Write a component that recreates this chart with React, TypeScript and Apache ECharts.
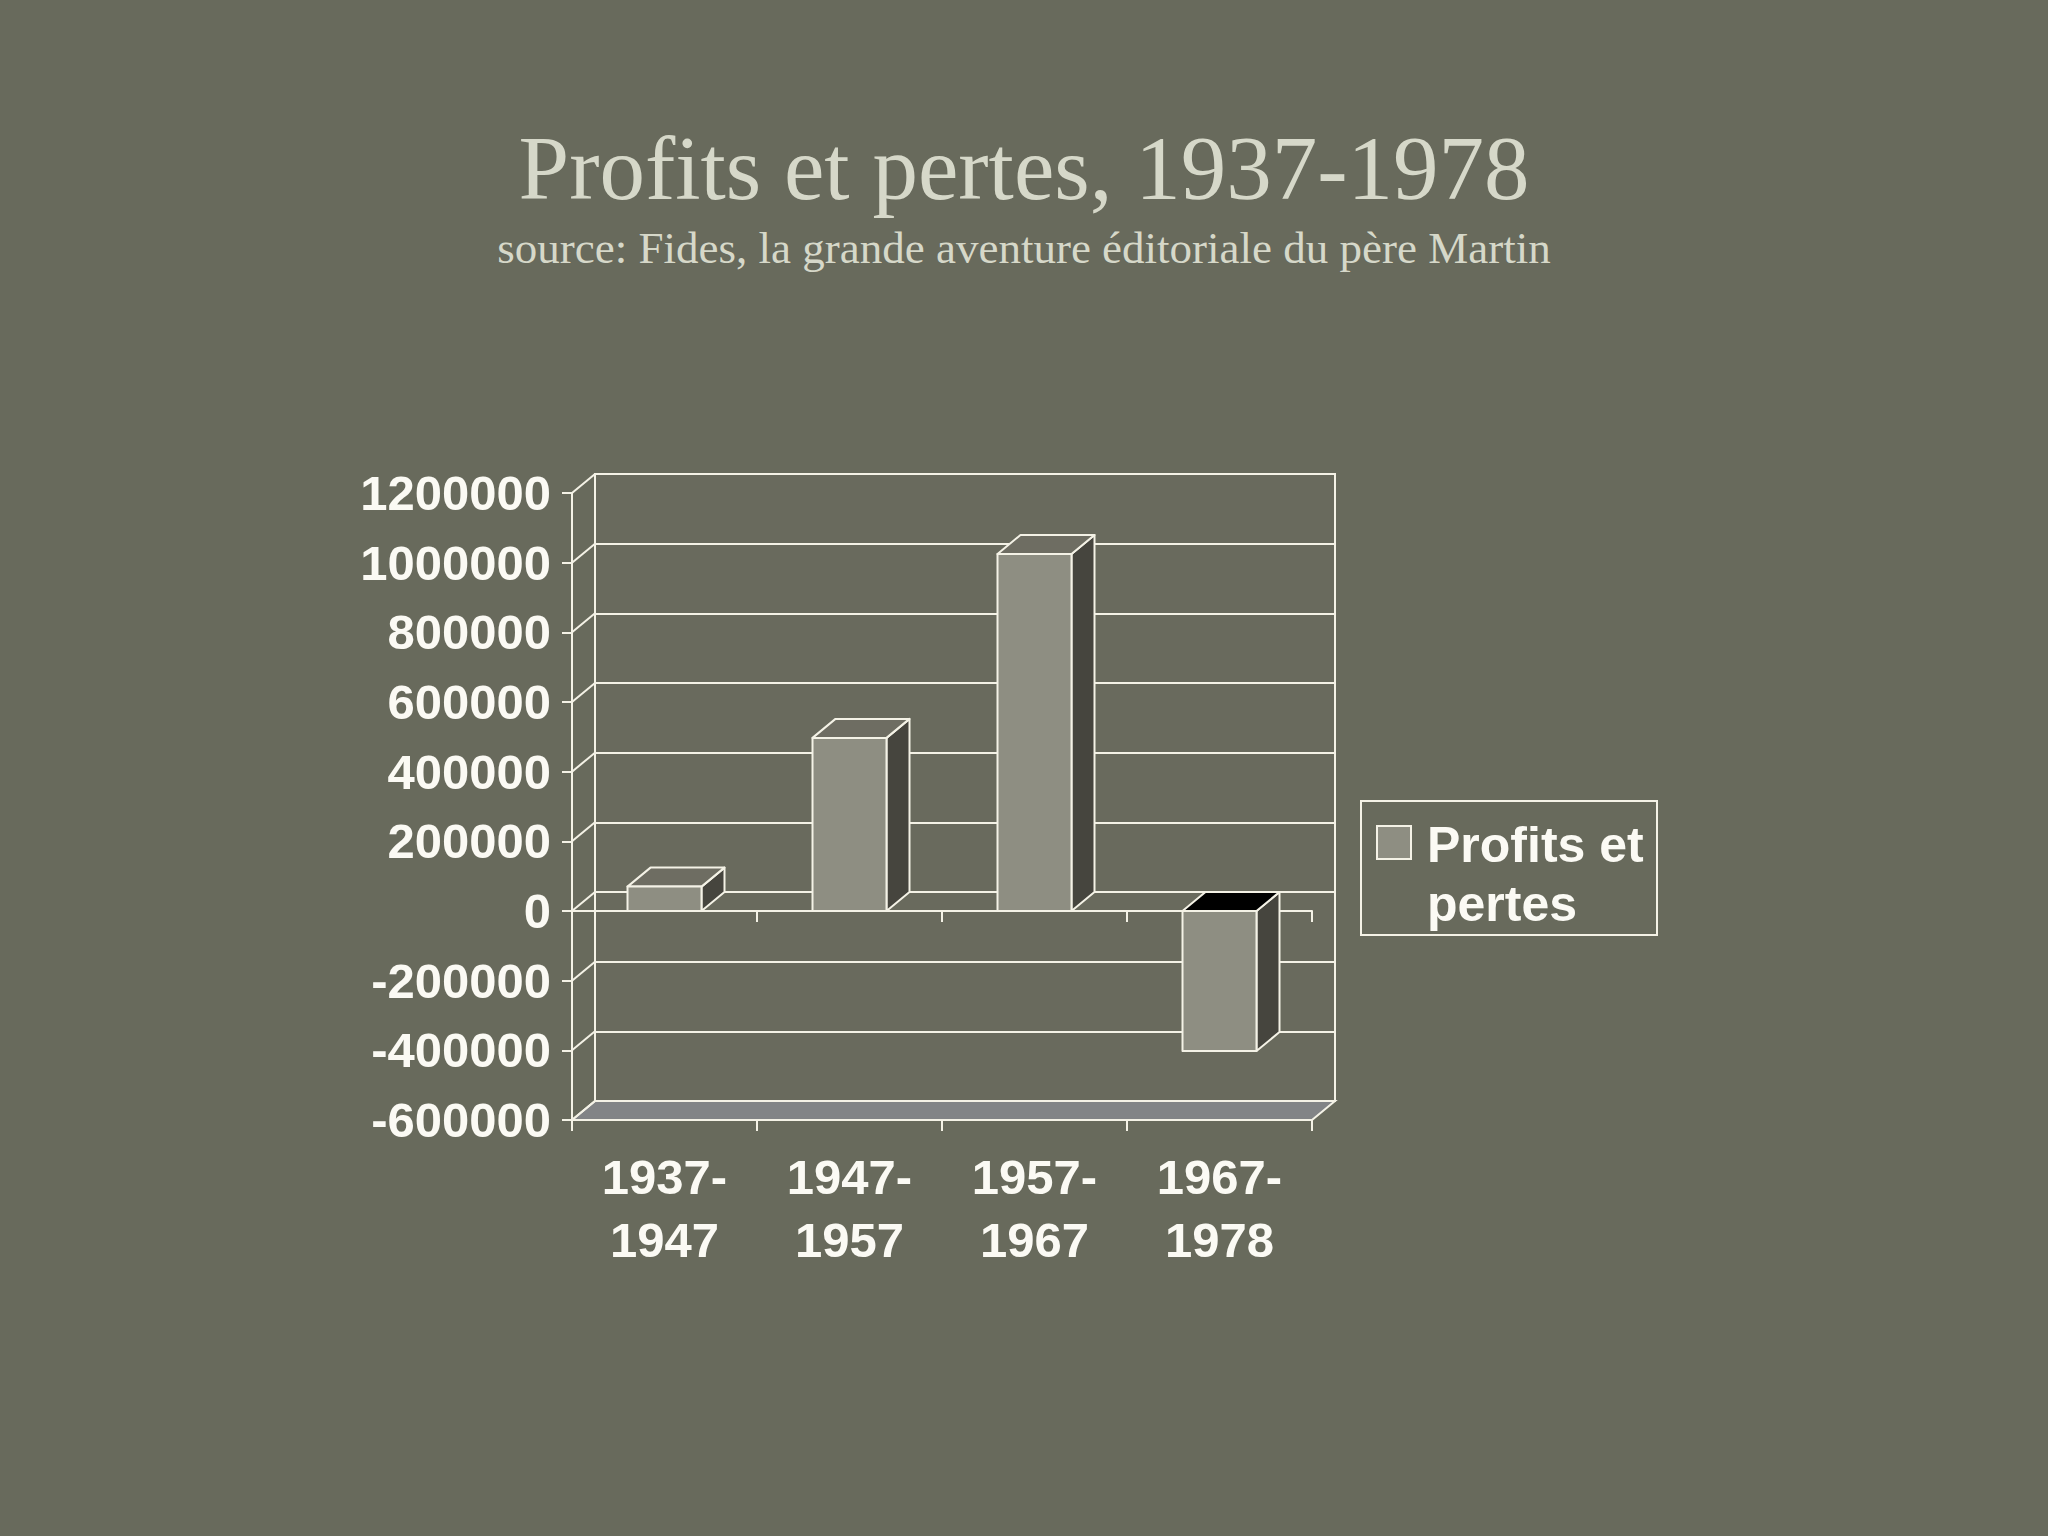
import { useEffect, useRef } from 'react'
import * as echarts from 'echarts'

// données
const categories = ['1937-\n1947', '1947-\n1957', '1957-\n1967', '1967-\n1978']
const profits = [70000, 497000, 1025000, -402000]
const yTicks = [-600000, -400000, -200000, 0, 200000, 400000, 600000, 800000, 1000000, 1200000]
const seriesName = 'Profits et pertes'
const title = 'Profits et pertes, 1937-1978'
const subtitle = 'source: Fides, la grande aventure éditoriale du père Martin'

const BG = '#686a5c'
const WALL = '#696a5d'
const LINE = '#f4f2e6'
const TEXT = '#fbfaf4'
const FRONT = '#8e8e82'
const SIDE = '#46453e'
const TOP = '#6e6d62'
const FLOOR = '#828486'
const DX = 23
const DY = -19

export default function App() {
  const chartRef = useRef<HTMLDivElement>(null)

  useEffect(() => {
    if (!chartRef.current) return
    document.body.style.margin = '0'
    document.body.style.background = BG

    const chart = echarts.init(chartRef.current, null, { renderer: 'svg' })

    const labelFont = {
      fontFamily: 'Liberation Sans',
      fontWeight: 'bold' as const,
      fontSize: 49,
      color: TEXT
    }

    const option: any = {
      animation: false,
      backgroundColor: BG,
      title: [
        {
          text: title,
          left: 'center',
          top: 123,
          padding: 0,
          textStyle: { fontFamily: 'Liberation Serif', fontWeight: 'normal', fontSize: 91, color: '#d6d8c9' }
        },
        {
          text: subtitle,
          left: 'center',
          top: 225,
          padding: 0,
          textStyle: { fontFamily: 'Liberation Serif', fontWeight: 'normal', fontSize: 45, color: '#d6d8c9' }
        }
      ],
      grid: [
        { left: 572, top: 493, width: 740, height: 627 },
        {
          left: 572 + DX, top: 493 + DY, width: 740, height: 627,
          show: true, backgroundColor: WALL, borderColor: LINE, borderWidth: 2
        }
      ],
      xAxis: [
        {
          gridIndex: 0,
          type: 'category',
          data: categories,
          position: 'bottom',
          axisLine: { onZero: false, lineStyle: { color: LINE, width: 2 } },
          axisTick: { show: true, length: 11, lineStyle: { color: LINE, width: 2 } },
          axisLabel: { ...labelFont, lineHeight: 63, margin: 25, interval: 0 }
        },
        {
          gridIndex: 0,
          type: 'category',
          data: categories,
          position: 'top',
          axisLine: { onZero: true, lineStyle: { color: LINE, width: 2 } },
          axisTick: { show: true, inside: true, length: 11, lineStyle: { color: LINE, width: 2 } },
          axisLabel: { show: false }
        },
        { gridIndex: 1, type: 'category', data: categories, show: false }
      ],
      yAxis: [
        {
          gridIndex: 0,
          type: 'value',
          min: -600000,
          max: 1200000,
          interval: 200000,
          axisLine: { show: true, lineStyle: { color: LINE, width: 2 } },
          axisTick: { show: true, length: 10, lineStyle: { color: LINE, width: 2 } },
          splitLine: { show: false },
          axisLabel: { ...labelFont, margin: 21, formatter: (v: number) => String(v) }
        },
        {
          gridIndex: 1,
          type: 'value',
          min: -600000,
          max: 1200000,
          interval: 200000,
          axisLine: { show: false },
          axisTick: { show: false },
          axisLabel: { show: false },
          splitLine: { show: true, lineStyle: { color: LINE, width: 2 } }
        }
      ],
      graphic: [
        {
          type: 'rect',
          shape: { x: 1361, y: 801, width: 296, height: 134 },
          style: { fill: 'none', stroke: LINE, lineWidth: 2 }
        },
        {
          type: 'rect',
          shape: { x: 1377, y: 826, width: 34, height: 33 },
          style: { fill: FRONT, stroke: LINE, lineWidth: 2 }
        },
        {
          type: 'text',
          x: 1427,
          y: 815,
          style: {
            text: 'Profits et\npertes',
            fontFamily: 'Liberation Sans',
            fontWeight: 'bold',
            fontSize: 50,
            lineHeight: 59,
            fill: TEXT,
            verticalAlign: 'top'
          }
        }
      ],
      series: [
        {
          // sol gris
          type: 'custom',
          xAxisIndex: 0,
          yAxisIndex: 0,
          clip: false,
          silent: true,
          data: [[0, yTicks[0]]],
          renderItem: (params: any, api: any) => {
            const cs = params.coordSys
            const y = api.coord([0, api.value(1)])[1]
            return {
              type: 'polygon',
              shape: {
                points: [
                  [cs.x, y], [cs.x + cs.width, y],
                  [cs.x + cs.width + DX, y + DY], [cs.x + DX, y + DY]
                ]
              },
              style: { fill: FLOOR, stroke: LINE, lineWidth: 2 }
            }
          }
        },
        {
          // paroi gauche
          type: 'custom',
          xAxisIndex: 0,
          yAxisIndex: 0,
          clip: false,
          silent: true,
          data: yTicks.map(v => [0, v]),
          renderItem: (params: any, api: any) => {
            const cs = params.coordSys
            const y = api.coord([0, api.value(1)])[1]
            return {
              type: 'line',
              shape: { x1: cs.x, y1: y, x2: cs.x + DX, y2: y + DY },
              style: { stroke: LINE, lineWidth: 2 }
            }
          }
        },
        {
          name: seriesName,
          type: 'custom',
          xAxisIndex: 0,
          yAxisIndex: 0,
          clip: false,
          data: profits.map((v, i) => [i, v]),
          renderItem: (params: any, api: any) => {
            const i = api.value(0)
            const v = api.value(1)
            const [cx, y0] = api.coord([i, 0])
            const y1 = api.coord([i, v])[1]
            const w = api.size([1, 0])[0] * 0.4
            const x = cx - w / 2
            const top = Math.min(y0, y1)
            const bottom = Math.max(y0, y1)
            const stroke = { stroke: LINE, lineWidth: 2, lineJoin: 'round' }
            return {
              type: 'group',
              children: [
                {
                  type: 'polygon',
                  shape: { points: [[x + w, top], [x + w + DX, top + DY], [x + w + DX, bottom + DY], [x + w, bottom]] },
                  style: { fill: SIDE, ...stroke }
                },
                {
                  type: 'polygon',
                  shape: { points: [[x, top], [x + DX, top + DY], [x + w + DX, top + DY], [x + w, top]] },
                  style: { fill: v < 0 ? '#000000' : TOP, ...stroke }
                },
                {
                  type: 'rect',
                  shape: { x, y: top, width: w, height: bottom - top },
                  style: { fill: FRONT, ...stroke }
                }
              ]
            }
          }
        }
      ]
    }

    chart.setOption(option)

    return () => {
      chart.dispose()
    }
  }, [])

  return (
    <div
      ref={chartRef}
      style={{ position: 'fixed', left: 0, top: 0, width: 2048, height: 1536 }}
    />
  )
}
